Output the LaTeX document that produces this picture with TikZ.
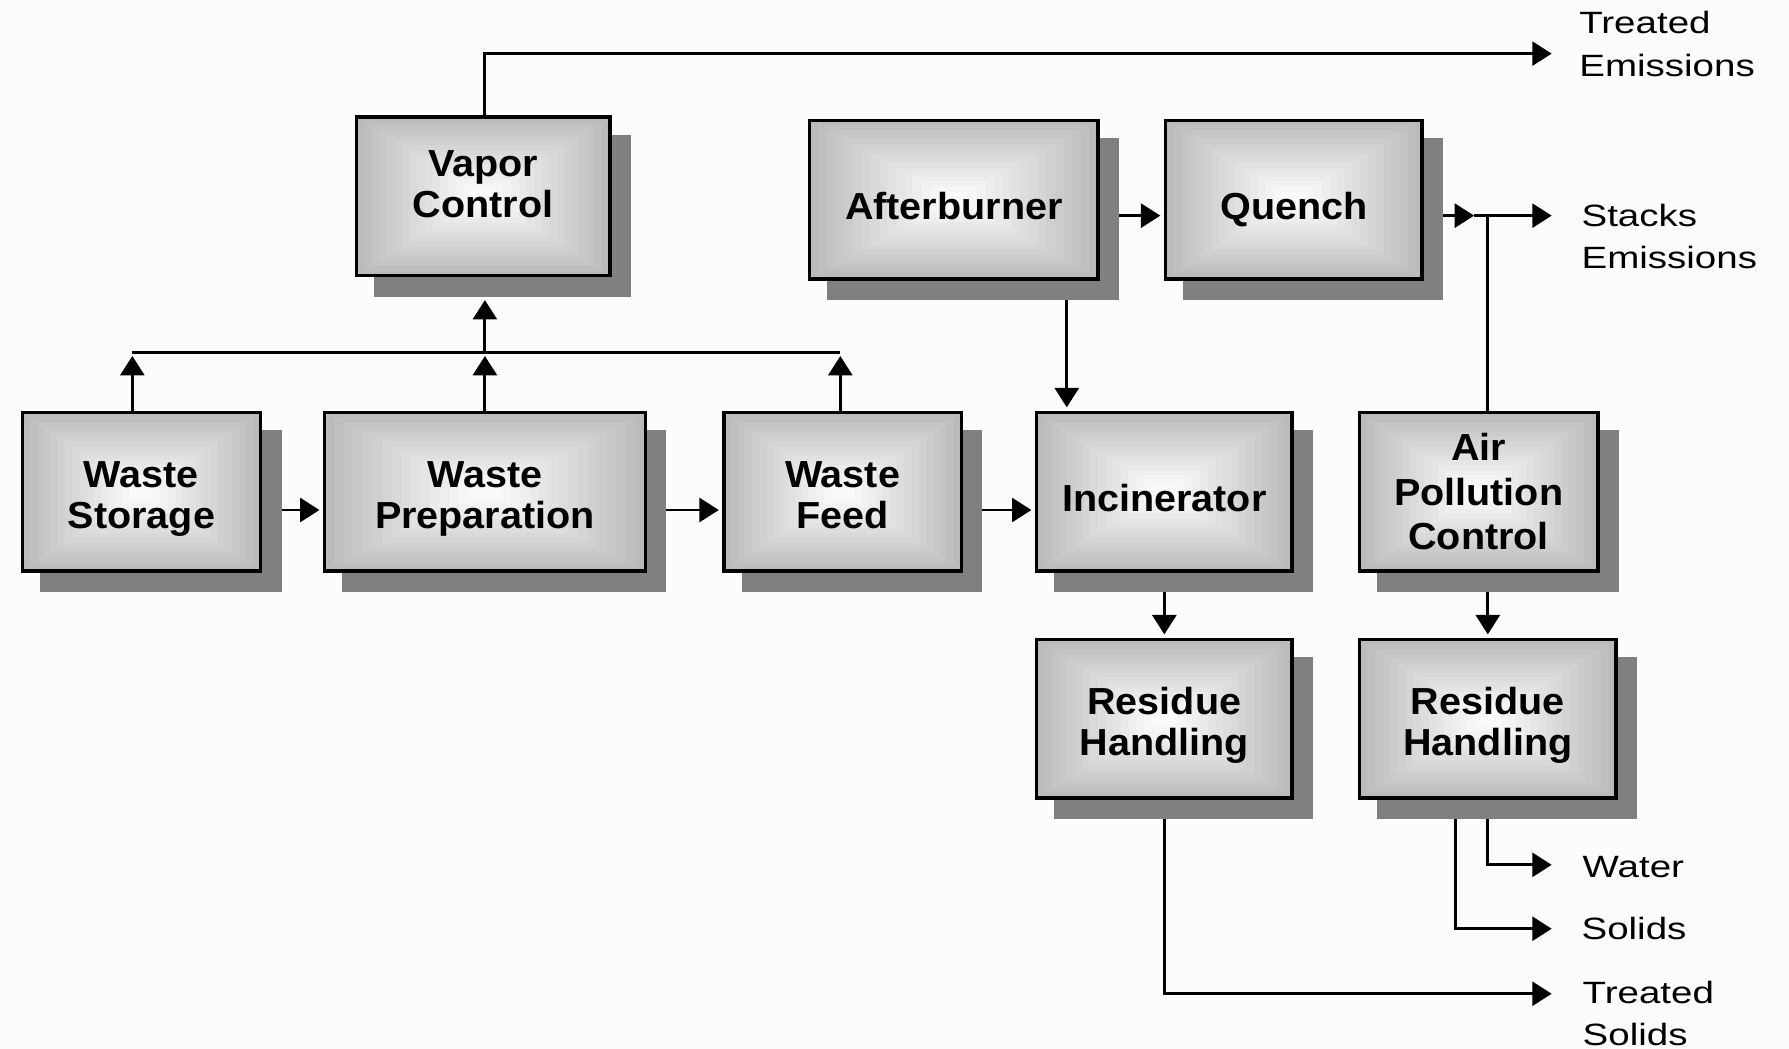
\documentclass[tikz,border=0pt]{standalone}
\usepackage{fontspec}
\setmainfont{Liberation Sans}
\newfontfamily\boxfont[FakeStretch=1.05]{Liberation Sans}
\newfontfamily\labfont[FakeStretch=1.25]{Liberation Sans}
\usetikzlibrary{arrows.meta,calc,backgrounds}
\definecolor{bg}{RGB}{252,252,252}
\definecolor{edgegray}{RGB}{186,188,186}
\definecolor{centergray}{RGB}{250,250,250}
\definecolor{shadowgray}{RGB}{128,128,128}
\tikzset{
  box/.style={draw=black, line width=3pt, inner sep=0pt, minimum height=139pt,
    align=center, fill=edgegray, text depth=0pt,
    font=\boxfont\bfseries\fontsize{33}{36}\selectfont,
    path picture={
      \foreach \i in {1,...,15}{
        \pgfmathsetmacro\f{\i*0.03}
        \pgfmathsetmacro\p{\i*100/15}
        \fill[centergray!\p!edgegray]
          ($(path picture bounding box.south west)!\f!(path picture bounding box.north east)$)
          rectangle
          ($(path picture bounding box.north east)!\f!(path picture bounding box.south west)$);
      }
    }},
  oneline/.style={text height=34pt},
  twoline/.style={text height=64pt},
  lab/.style={inner sep=0pt, anchor=west, align=left,
    font=\labfont\fontsize{27}{37}\selectfont},
  conn/.style={line width=2.6pt},
  arr/.style={conn, -{Triangle[length=17pt,width=21pt]}},
  tobox/.style={arr, shorten >=3pt},
}
\begin{document}
\begin{tikzpicture}[x=1pt,y=-1pt]
\useasboundingbox (0,0) rectangle (1568,919);

% boxes
\node[box, minimum width=222pt, text height=38pt] (vapor) at (423.5,172) {Vapor\\Control};
\node[box, oneline, minimum width=253pt] (after) at (836,175) {Afterburner};
\node[box, oneline, minimum width=225pt] (quench) at (1134,175) {Quench};
\node[box, twoline, minimum width=209pt] (storage) at (124,431) {Waste\\Storage};
\node[box, twoline, minimum width=281pt] (prep) at (425,431) {Waste\\Preparation};
\node[box, twoline, minimum width=208pt] (feed) at (738.5,431) {Waste\\Feed};
\node[box, oneline, minimum width=224pt] (incin) at (1020.5,431) {Incinerator};
\node[box, minimum width=209pt, font=\boxfont\bfseries\fontsize{33}{39}\selectfont] (apc) at (1296,431) {Air\\Pollution\\Control};
\node[box, twoline, minimum width=224pt] (res1) at (1020.5,630) {Residue\\Handling};
\node[box, twoline, minimum width=225pt] (res2) at (1304,630) {Residue\\Handling};

% output labels
\node[lab] (teL) at (1384,38.5) {Treated\\Emissions};
\node[lab] (seL) at (1386,207.5) {Stacks\\Emissions};
\node[lab] (waL) at (1387,760) {Water};
\node[lab] (soL) at (1386,814) {Solids};
\node[lab] (tsL) at (1387,888) {Treated\\Solids};

% free ends of outgoing connectors
\coordinate (te) at (1360,47);
\coordinate (stk) at (1360,189);
\coordinate (wa) at (1360,758);
\coordinate (so) at (1360,814);
\coordinate (ts) at (1360,871);
\coordinate (bus) at (0,309);

% main flow
\draw[tobox] ([shift={(17pt,-16pt)}]storage.east) -- ([yshift=-16pt]prep.west);
\draw[tobox] ([shift={(17pt,-16pt)}]prep.east) -- ([yshift=-16pt]feed.west);
\draw[tobox] ([shift={(17pt,-16pt)}]feed.east) -- ([yshift=-16pt]incin.west);
\draw[tobox] ([shift={(17pt,-14pt)}]after.east) -- ([yshift=-14pt]quench.west);
\draw[tobox] ([shift={(99pt,-17pt)}]after.south) -- ([xshift=99pt]after.south |- incin.north);
\draw[tobox] ([yshift=-17pt]incin.south) -- (res1.north);
\draw[tobox] ([yshift=-17pt]apc.south -| res2.north) -- (res2.north);

% vapor collection
\draw[tobox] ([xshift=-8pt]storage.north) -- ([xshift=-8pt]storage.north |- bus);
\draw[tobox] ([xshift=-2pt]feed.north) -- ([xshift=-2pt]feed.north |- bus);
\draw[conn] ([xshift=-8pt]storage.north |- bus) -- ([xshift=-2pt]feed.north |- bus);
\draw[tobox] (prep.north) -- (prep.north |- bus);
\draw[tobox] (prep.north |- bus) -- ([yshift=-17pt]vapor.south -| prep.north);
\draw[arr] ([xshift=1.5pt]vapor.north) |- (te);

% stacks
\draw[arr] ([shift={(17pt,-14pt)}]quench.east) -- ++(27pt,0) coordinate (qa);
\draw[arr] (qa) -- (stk);
\draw[conn] (apc.north -| res2.north) -- (res2.north |- stk);

% residues
\draw[arr] ([yshift=-17pt]res1.south) |- (ts);
\draw[arr] ([yshift=-17pt]res2.south) |- (wa);
\draw[arr] ([shift={(-28pt,-17pt)}]res2.south) |- (so);

% background and shadows
\begin{scope}[on background layer]
  \fill[bg] (0,0) rectangle (1568,919);
  \foreach \n in {vapor,after,quench,storage,prep,feed,incin,apc,res1,res2}{
    \fill[shadowgray] ([shift={(17pt,-17pt)}]\n.south west) rectangle ([shift={(17pt,-17pt)}]\n.north east);
  }
\end{scope}
\end{tikzpicture}
\end{document}
